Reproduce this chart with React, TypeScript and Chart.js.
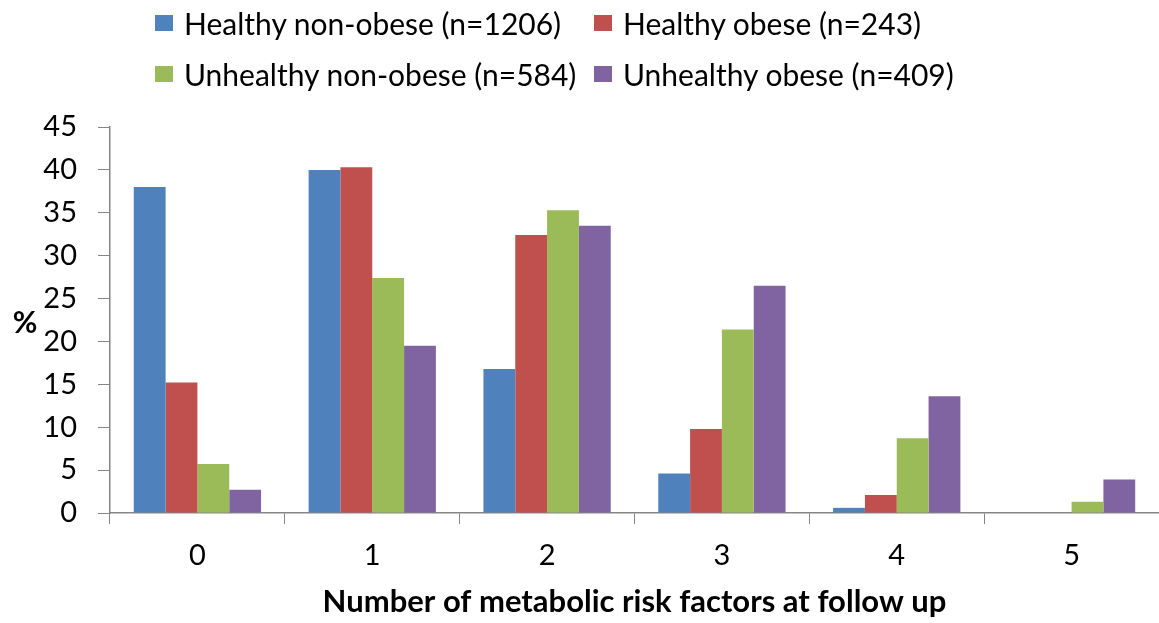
import React, { useEffect, useRef } from "react";
import { Chart, registerables } from "chart.js";

Chart.register(...registerables);

const categories = ["0", "1", "2", "3", "4", "5"];
const seriesNames = [
  "Healthy non-obese (n=1206)",
  "Healthy obese (n=243)",
  "Unhealthy non-obese (n=584)",
  "Unhealthy obese (n=409)",
];
const healthyNonObese = [38.0, 40.0, 16.8, 4.6, 0.6, 0];
const healthyObese = [15.2, 40.3, 32.4, 9.8, 2.1, 0];
const unhealthyNonObese = [5.7, 27.4, 35.3, 21.4, 8.7, 1.3];
const unhealthyObese = [2.7, 19.5, 33.5, 26.5, 13.6, 3.9];
const colors = ["#4F81BD", "#C0504D", "#9BBB59", "#8064A2"];
const yTitle = "%";
const xTitle = "Number of metabolic risk factors at follow up";

const FONT = "Lato, 'Liberation Sans', sans-serif";

export default function App() {
  const ref = useRef<HTMLCanvasElement | null>(null);

  useEffect(() => {
    if (!ref.current) return;
    const values = [healthyNonObese, healthyObese, unhealthyNonObese, unhealthyObese];
    const percentPlugin = {
      id: "percentLabel",
      afterDraw(chart: any) {
        const ctx = chart.ctx;
        const area = chart.chartArea;
        ctx.save();
        ctx.font = `bold 30px ${FONT}`;
        ctx.fillStyle = "#000";
        ctx.textAlign = "center";
        ctx.textBaseline = "middle";
        ctx.fillText(yTitle, 25, (area.top + area.bottom) / 2 + 3);
        ctx.restore();
      },
    };
    const chart = new Chart(ref.current, {
      type: "bar",
      data: {
        labels: categories,
        datasets: seriesNames.map((name, i) => ({
          label: name,
          data: values[i],
          backgroundColor: colors[i],
          borderWidth: 0,
          categoryPercentage: 0.728,
          barPercentage: 1.0,
        })),
      },
      options: {
        responsive: false,
        animation: false,
        layout: { padding: { top: 127, left: 0, right: 0, bottom: 0 } },
        plugins: {
          legend: { display: false },
          tooltip: { enabled: false },
        },
        scales: {
          x: {
            grid: {
              display: true,
              drawOnChartArea: false,
              drawTicks: true,
              tickLength: 11,
              color: "#868686",
              offset: true,
            },
            border: { display: true, color: "#868686", width: 1.5 },
            ticks: {
              color: "#000",
              font: { family: FONT, size: 29 },
              padding: 14,
            },
            title: {
              display: true,
              text: xTitle,
              color: "#000",
              font: { family: FONT, size: 31, weight: "bold" },
              padding: { top: 0, bottom: 2 },
            },
            afterFit(scale: any) {
              scale.height = 110;
            },
          },
          y: {
            min: 0,
            max: 45,
            ticks: {
              stepSize: 5,
              color: "#000",
              font: { family: FONT, size: 29 },
              padding: 21,
            },
            grid: {
              display: true,
              drawOnChartArea: false,
              drawTicks: true,
              tickLength: 12,
              color: "#868686",
            },
            border: { display: true, color: "#868686", width: 1.5 },
            afterFit(scale: any) {
              scale.width = 110;
            },
          },
        },
      },
      plugins: [percentPlugin],
    });
    return () => chart.destroy();
  }, []);

  const legendItem = (i: number) => (
    <div style={{ display: "flex", alignItems: "center", whiteSpace: "nowrap" }}>
      <span
        style={{
          display: "inline-block",
          width: 18,
          height: 16,
          background: colors[i],
          marginRight: 11,
        }}
      />
      <span>{seriesNames[i]}</span>
    </div>
  );

  return (
    <div style={{ position: "absolute", left: 0, top: 0, width: 1159, height: 623, background: "#fff" }}>
      <canvas ref={ref} width={1159} height={623} style={{ position: "absolute", left: 0, top: 0 }} />
      <div
        style={{
          position: "absolute",
          left: 0,
          top: 0,
          fontFamily: FONT,
          fontSize: 30,
          color: "#000",
          lineHeight: "32px",
        }}
      >
        <div style={{ position: "absolute", left: 155, top: 7 }}>{legendItem(0)}</div>
        <div style={{ position: "absolute", left: 594, top: 7 }}>{legendItem(1)}</div>
        <div style={{ position: "absolute", left: 155, top: 58 }}>{legendItem(2)}</div>
        <div style={{ position: "absolute", left: 594, top: 58 }}>{legendItem(3)}</div>
      </div>
    </div>
  );
}
